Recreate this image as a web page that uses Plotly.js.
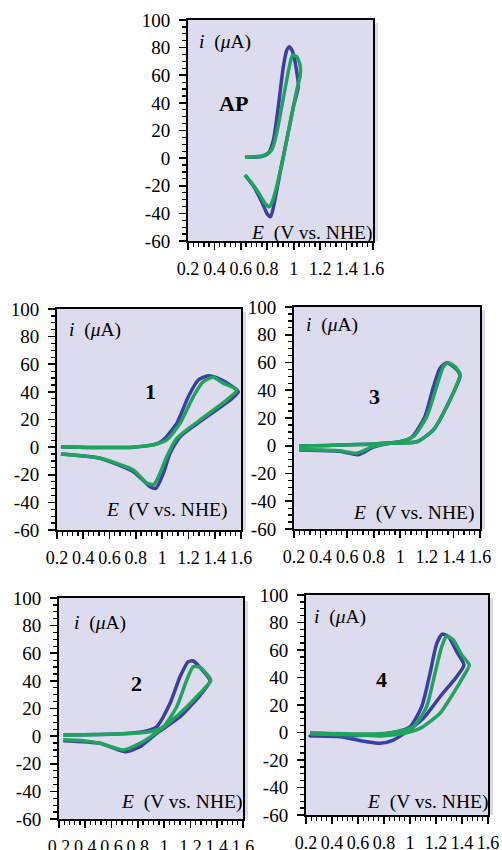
<!DOCTYPE html>
<html><head><meta charset="utf-8">
<script src="https://cdn.plot.ly/plotly-3.0.1.min.js"></script>
<style>html,body{margin:0;padding:0;background:#fff;}#chart{width:502px;height:850px;}</style>
</head><body><div id="chart"></div>
<script>
// ---- data (E in V vs. NHE, i in µA) ----
const panelNames = ["AP", "1", "3", "2", "4"];
const yTickVals = [-60, -40, -20, 0, 20, 40, 60, 80, 100];
const yTickText = ["-60", "-40", "-20", "0", "20", "40", "60", "80", "100"];

const apBlueE = [0.631,0.745,0.808,0.846,0.883,0.921,0.947,0.967,0.992,1.017,1.035,0.997,0.947,0.896,0.858,0.826,0.800,0.760,0.700,0.631];
const apBlueI = [0.6,1.0,3.5,13,37,66,78,80.7,77,66,52,37,13,-11,-30,-42.4,-40.5,-32,-21,-12.2];
const apGreenE = [0.631,0.770,0.833,0.871,0.909,0.947,0.972,0.992,1.023,1.048,1.048,1.023,0.972,0.921,0.871,0.833,0.815,0.785,0.740,0.690,0.631];
const apGreenI = [0.6,1.8,5.9,18,37,56.6,68.6,74.7,73.4,67.4,59,49.3,25,1,-20.7,-32.7,-35.2,-33,-26,-19,-12.2];

const p1BlueE = [0.230,0.500,0.781,0.959,1.010,1.111,1.199,1.275,1.351,1.427,1.516,1.580,1.516,1.288,1.136,1.060,1.009,0.953,0.908,0.781,0.527,0.230];
const p1BlueI = [0.3,-0.3,0,2.3,5.2,17.2,36.5,48.6,51.7,49.8,45,40,34,18.4,7.5,-4.5,-19,-29.8,-28.6,-17.8,-8.1,-5];
const p1GreenE = [0.230,0.500,0.781,0.959,1.035,1.136,1.237,1.313,1.389,1.465,1.554,1.572,1.491,1.288,1.111,1.035,0.984,0.938,0.882,0.781,0.527,0.230];
const p1GreenI = [0.3,-0.3,0,2.3,5.2,17.2,36.5,47.4,50.5,46.2,42.6,41.4,34,19.6,6.4,-7,-19,-27,-26,-16.6,-8.1,-5];

const p3BlueE = [0.240,0.797,0.998,1.090,1.185,1.250,1.299,1.349,1.400,1.437,1.449,1.374,1.249,1.124,0.923,0.797,0.685,0.546,0.240];
const p3BlueI = [-0.2,1.3,2.9,6.5,21,42.6,55.8,59.9,57,53.4,50,33,11.4,2.9,1.8,-1,-6.5,-4,-3];
const p3GreenE = [0.240,0.797,0.998,1.098,1.199,1.274,1.324,1.361,1.412,1.449,1.449,1.374,1.249,1.124,0.923,0.797,0.672,0.546,0.240];
const p3GreenI = [-0.2,1.3,2.9,6.5,21,42.6,57,59.9,57,52.2,50,33,11.4,2.9,1.8,-0.5,-5.4,-3.6,-2.7];

const p2BlueE = [0.233,0.639,0.841,0.943,1.045,1.121,1.184,1.222,1.273,1.349,1.273,1.121,0.943,0.816,0.702,0.512,0.233];
const p2BlueI = [0.8,1.5,3.2,6.8,23.8,43,53.9,54.4,49.8,40,29.5,14,2,-7.6,-11.3,-5.2,-3.3];
const p2GreenE = [0.233,0.639,0.892,0.994,1.096,1.172,1.222,1.273,1.349,1.354,1.273,1.121,0.968,0.816,0.689,0.512,0.385,0.233];
const p2GreenI = [0.8,1.5,3.2,6.8,21.3,40.6,50.3,49.8,41.8,40,31,16.5,4.4,-5.2,-10,-5.2,-3.3,-2.6];

const p4BlueE = [0.231,0.718,0.898,1.000,1.090,1.154,1.205,1.248,1.295,1.359,1.415,1.359,1.231,1.102,0.975,0.872,0.769,0.667,0.462,0.231];
const p4BlueI = [-2.5,-1.8,0.6,4.2,18.8,43,64.6,71.6,69.8,58.8,49.1,40.6,26,10.3,0.6,-5.5,-7.9,-6.7,-3.1,-2.5];
const p4GreenE = [0.231,0.718,0.898,1.025,1.128,1.192,1.244,1.282,1.333,1.398,1.456,1.410,1.333,1.231,1.077,0.923,0.769,0.590,0.231];
const p4GreenI = [-0.1,-1.1,0.6,4.2,18.8,43,62.4,70.2,67.3,56.4,49.1,40.6,28.5,14,3,-1.1,-2.5,-1.8,-1.1];

// ---- layout geometry (pixels) ----
const W = 502, H = 850;
// [left, right, top, bottom] in pixels
const boxes = [[188,373,20,241],[57,241,309,530],[294,480,307,529],[59,243,598,819],[306,488,595,815]];
const labelPos = [[233.7,103],[150,391.7],[374.3,396.7],[136.7,683.3],[381.7,679.3]];
const iLabelPos = [[197,42],[67,330],[304,325],[72,623],[312,617]];
const eLabelPos = [[374,233],[229,510],[476,513],[244,802],[490,802]];

const blue = "#3a3ea6", green = "#1ea45c";
const serif = "Liberation Serif, Times New Roman, serif";
const series = [
  [apBlueE, apBlueI, apGreenE, apGreenI],
  [p1BlueE, p1BlueI, p1GreenE, p1GreenI],
  [p3BlueE, p3BlueI, p3GreenE, p3GreenI],
  [p2BlueE, p2BlueI, p2GreenE, p2GreenI],
  [p4BlueE, p4BlueI, p4GreenE, p4GreenI]
];

const traces = [];
const layout = {
  width: W, height: H, margin: {l:0, r:0, t:0, b:0},
  paper_bgcolor: "#ffffff", plot_bgcolor: "#dcdcee",
  showlegend: false, font: {family: serif, size: 19, color: "#000"},
  annotations: [], shapes: []
};

series.forEach((s, k) => {
  const n = k === 0 ? "" : String(k + 1);
  const xa = "x" + n, ya = "y" + n;
  traces.push({x: s[0], y: s[1], xaxis: xa, yaxis: ya, mode: "lines",
    line: {color: blue, width: 3.5, shape: "spline", smoothing: 0.6}, hoverinfo: "skip"});
  traces.push({x: s[2], y: s[3], xaxis: xa, yaxis: ya, mode: "lines",
    line: {color: green, width: 3.5, shape: "spline", smoothing: 0.6}, hoverinfo: "skip"});
  const b = boxes[k];
  layout["xaxis" + n] = {
    domain: [b[0]/W, b[1]/W], anchor: ya, range: [0.2, 1.6],
    tickmode: "linear", tick0: 0.2, dtick: 0.2, tickangle: 0,
    ticks: "outside", ticklen: 7, tickwidth: 1.6, tickcolor: "#000",
    showline: true, linewidth: 2, linecolor: "#000", mirror: true,
    showgrid: false, zeroline: false, ticklabelstandoff: 3,
    tickfont: {family: serif, size: 18, color: "#000"},
    minor: {tickmode: "linear", tick0: 0.2, dtick: 0.04, ticks: "outside", ticklen: 4, tickwidth: 1.3, tickcolor: "#000", showgrid: false},
    fixedrange: true
  };
  layout["yaxis" + n] = {
    domain: [1 - b[3]/H, 1 - b[2]/H], anchor: xa, range: [-60, 100],
    tickmode: "array", tickvals: yTickVals, ticktext: yTickText, tickangle: 0,
    ticks: "outside", ticklen: 7, tickwidth: 1.6, tickcolor: "#000",
    showline: true, linewidth: 2, linecolor: "#000", mirror: true,
    showgrid: false, zeroline: false, ticklabelstandoff: 5,
    tickfont: {family: serif, size: 19, color: "#000"},
    minor: {tickmode: "linear", tick0: -60, dtick: 5, ticks: "outside", ticklen: 4, tickwidth: 1.3, tickcolor: "#000", showgrid: false},
    fixedrange: true
  };
  // soft shadow strip to the right of each frame
  layout.shapes.push({type: "rect", xref: "paper", yref: "paper",
    x0: (b[1]+2)/W, x1: (b[1]+5)/W, y0: 1 - b[3]/H, y1: 1 - (b[2]+3)/H,
    fillcolor: "#d8d8ee", line: {width: 0}, layer: "below"});
  layout.annotations.push({xref: "paper", yref: "paper", x: labelPos[k][0]/W, y: 1 - labelPos[k][1]/H,
    text: "<b>" + panelNames[k] + "</b>", showarrow: false, xanchor: "center", yanchor: "middle",
    font: {family: serif, size: 22, color: "#000"}});
  layout.annotations.push({xref: "paper", yref: "paper", x: iLabelPos[k][0]/W, y: 1 - iLabelPos[k][1]/H,
    text: "<i>i</i>  (<i>μ</i>A)", showarrow: false, xanchor: "left", yanchor: "middle",
    font: {family: serif, size: 19.5, color: "#000"}});
  layout.annotations.push({xref: "paper", yref: "paper", x: eLabelPos[k][0]/W, y: 1 - eLabelPos[k][1]/H,
    text: "<i>E</i>  (V vs. NHE)", showarrow: false, xanchor: "right", yanchor: "middle",
    font: {family: serif, size: 19.5, color: "#000"}});
});

Plotly.newPlot("chart", traces, layout, {staticPlot: true, displayModeBar: false});
</script></body></html>
